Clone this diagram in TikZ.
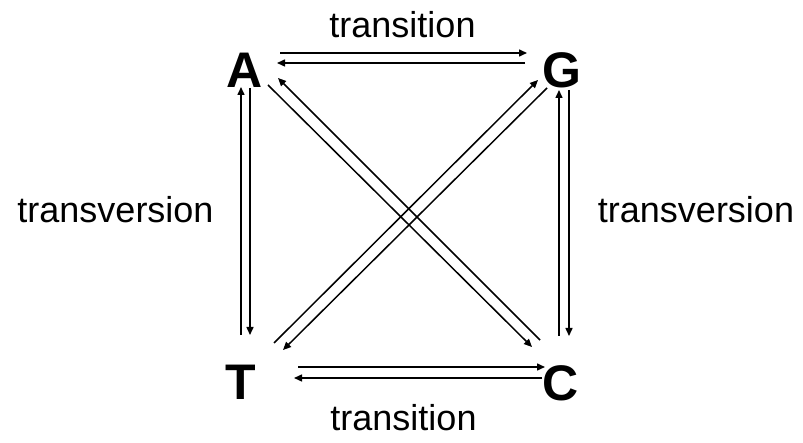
\documentclass[tikz,border=0pt]{standalone}
\usepackage{fontspec}
\setmainfont{Liberation Sans}
\usetikzlibrary{arrows.meta}
\tikzset{
  base/.style={inner sep=0pt, outer sep=0pt, font=\bfseries\fontsize{50}{54}\selectfont},
  lbl/.style={inner sep=0pt, anchor=base, font=\fontsize{36}{40}\selectfont},
  conn/.style={line width=1.5pt, -{Triangle[length=8pt,width=7pt]}}
}
\begin{document}
\begin{tikzpicture}[x=1pt,y=-1pt]
\useasboundingbox (0,0) rectangle (803,443);
\node[base] (A) at (245,70) {A};
\node[base] (G) at (562,70) {G};
\node[base] (T) at (241,382) {T};
\node[base] (C) at (561,383) {C};
\node[lbl] (ltop) at (402.5,38) {transition};
\node[lbl] (lbot) at (403.5,430) {transition};
\node[lbl] (lleft) at (115.5,223) {transversion};
\node[lbl] (lright) at (696,223) {transversion};
% endpoints
\coordinate (AG1) at (280,53); \coordinate (GA1) at (527,53);
\coordinate (GA2) at (525,63); \coordinate (AG2) at (277,63);
\coordinate (TA1) at (241,335); \coordinate (AT1) at (241,87);
\coordinate (AT2) at (250,88); \coordinate (TA2) at (250,335);
\coordinate (CG1) at (559,336); \coordinate (GC1) at (559,90);
\coordinate (GC2) at (569,90); \coordinate (CG2) at (569,336);
\coordinate (TC1) at (298,367); \coordinate (CT1) at (545,367);
\coordinate (CT2) at (542,378); \coordinate (TC2) at (294,378);
\coordinate (AC1) at (268,85); \coordinate (CA1) at (532,347);
\coordinate (CA2) at (540,340); \coordinate (AC2) at (278,78);
\coordinate (TG1) at (274,343); \coordinate (GT1) at (538,80);
\coordinate (GT2) at (547,88); \coordinate (TG2) at (283,350);
\draw[conn] (AG1) -- (GA1);
\draw[conn] (GA2) -- (AG2);
\draw[conn] (TA1) -- (AT1);
\draw[conn] (AT2) -- (TA2);
\draw[conn] (CG1) -- (GC1);
\draw[conn] (GC2) -- (CG2);
\draw[conn] (TC1) -- (CT1);
\draw[conn] (CT2) -- (TC2);
\draw[conn] (AC1) -- (CA1);
\draw[conn] (CA2) -- (AC2);
\draw[conn] (TG1) -- (GT1);
\draw[conn] (GT2) -- (TG2);
\end{tikzpicture}
\end{document}
